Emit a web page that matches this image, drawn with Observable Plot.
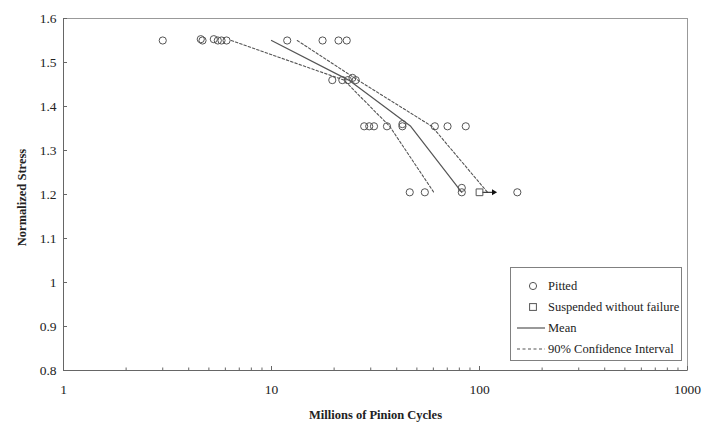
<!DOCTYPE html>
<html>
<head>
<meta charset="utf-8">
<script src="https://cdn.jsdelivr.net/npm/d3@7"></script>
<script src="https://cdn.jsdelivr.net/npm/@observablehq/plot@0.6"></script>
<style>
  html, body { margin: 0; padding: 0; background: #fff; }
  #wrap { position: relative; width: 714px; height: 423px; font-family: "Liberation Serif", "Times New Roman", serif; }
  #legend { position: absolute; left: 510px; top: 267px; width: 172px; height: 94px; border: 1px solid #808080; background: #fff; box-sizing: border-box; font-size: 12.5px; color: #222; }
  #legend .row { position: absolute; left: 0; height: 20px; width: 100%; }
  #legend .row svg { position: absolute; left: 0; top: 0; }
  #legend .row span { position: absolute; left: 37px; top: 2px; white-space: nowrap; line-height: 16px; }
</style>
</head>
<body>
<div id="wrap"></div>
<script>
// ---- data ----
const pittedCycles = [3.0, 4.57, 4.66, 5.28, 5.52, 5.75, 6.08, 11.9, 17.6, 21.0, 23.0,
                      19.6, 21.9, 23.3, 24.5, 25.4,
                      27.9, 29.5, 31.1, 35.9, 42.6, 42.6, 61.0, 70.2, 85.9,
                      46.2, 54.6, 82.2, 82.2, 152];
const pittedStress = [1.55, 1.553, 1.55, 1.553, 1.55, 1.55, 1.55, 1.55, 1.55, 1.55, 1.55,
                      1.46, 1.46, 1.46, 1.465, 1.46,
                      1.355, 1.355, 1.355, 1.355, 1.36, 1.355, 1.355, 1.355, 1.355,
                      1.205, 1.205, 1.215, 1.205, 1.205];
const suspendedCycles = [100];
const suspendedStress = [1.205];
const suspendedArrowTo = [117];
const levelStress = [1.55, 1.46, 1.355, 1.205];
const meanCycles = [10, 23.5, 46.7, 82.2];
const ciLowerCycles = [6.4, 22.3, 37.0, 60.3];
const ciUpperCycles = [13.3, 26.0, 59.0, 109.3];
const xTickValues = [1, 10, 100, 1000];
const yTickValues = [0.8, 0.9, 1, 1.1, 1.2, 1.3, 1.4, 1.5, 1.6];
const legendLabels = ["Pitted", "Suspended without failure", "Mean", "90% Confidence Interval"];

// ---- tables ----
const pitted = pittedCycles.map((c, i) => ({cycles: c, stress: pittedStress[i]}));
const suspended = suspendedCycles.map((c, i) => ({cycles: c, stress: suspendedStress[i], arrowTo: suspendedArrowTo[i]}));
const mean = levelStress.map((s, i) => ({cycles: meanCycles[i], stress: s}));
const ciLow = levelStress.map((s, i) => ({cycles: ciLowerCycles[i], stress: s}));
const ciHigh = levelStress.map((s, i) => ({cycles: ciUpperCycles[i], stress: s}));
const xMinor = [];
for (const dec of xTickValues.slice(0, -1)) for (let k = 2; k <= 9; k++) xMinor.push(dec * k);

const W = 714, H = 423, mL = 63, mR = 27, mT = 18, mB = 53;
const plotW = W - mL - mR, plotH = H - mT - mB;
const gray = "#555";

const chart = Plot.plot({
  width: W, height: H,
  marginLeft: mL, marginRight: mR, marginTop: mT, marginBottom: mB,
  style: {fontFamily: '"Liberation Serif", "Times New Roman", serif', background: "#fff", color: "#222"},
  x: {type: "log", domain: [1, 1000]},
  y: {domain: [0.8, 1.6]},
  marks: [
    Plot.frame({stroke: "#999"}),
    Plot.ruleX([xTickValues[0]], {stroke: "#666"}),
    Plot.ruleY([yTickValues[0]], {stroke: "#666"}),
    Plot.tickX(xTickValues, {x: d => d, stroke: "#666", insetTop: plotH - 4}),
    Plot.tickX(xMinor, {x: d => d, stroke: "#666", insetTop: plotH - 2.5}),
    Plot.tickY(yTickValues, {y: d => d, stroke: "#666", insetRight: plotW - 4}),
    Plot.axisX(xTickValues, {tickSize: 0, tickPadding: 14, fontSize: 13.5, label: null, tickFormat: d => String(d)}),
    Plot.axisY(yTickValues, {tickSize: 0, tickPadding: 7, fontSize: 13.5, label: null, tickFormat: d => String(d)}),
    Plot.text(["Millions of Pinion Cycles"], {frameAnchor: "bottom", dy: 48, fontWeight: "bold", fontSize: 12.5, fill: "#222"}),
    Plot.text(["Normalized Stress"], {frameAnchor: "left", textAnchor: "middle", dx: -42, dy: 3, rotate: -90, fontWeight: "bold", fontSize: 12.5, fill: "#222"}),
    Plot.line(ciLow, {x: "cycles", y: "stress", stroke: gray, strokeWidth: 1.1, strokeDasharray: "2.5,2"}),
    Plot.line(ciHigh, {x: "cycles", y: "stress", stroke: gray, strokeWidth: 1.1, strokeDasharray: "2.5,2"}),
    Plot.line(mean, {x: "cycles", y: "stress", stroke: gray, strokeWidth: 1.2}),
    Plot.dot(pitted, {x: "cycles", y: "stress", r: 3.6, stroke: gray, fill: "none", strokeWidth: 1}),
    Plot.ruleY(suspended, {y: "stress", x1: "cycles", x2: "arrowTo", insetLeft: 3.5, stroke: "#111"}),
    Plot.dot(suspended, {x: "arrowTo", y: "stress", symbol: "triangle", rotate: 90, r: 2.2, fill: "#111", stroke: "none"}),
    Plot.dot(suspended, {x: "cycles", y: "stress", symbol: "square", r: 3.8, stroke: gray, fill: "none", strokeWidth: 1})
  ]
});

const wrap = document.getElementById("wrap");
wrap.appendChild(chart);

// legend overlay
const legend = document.createElement("div");
legend.id = "legend";
const symbols = [
  '<circle cx="22" cy="10" r="3.6" fill="none" stroke="#555"/>',
  '<rect x="18.6" y="6.6" width="6.8" height="6.8" fill="none" stroke="#555"/>',
  '<line x1="6" y1="10" x2="34" y2="10" stroke="#555" stroke-width="1.2"/>',
  '<line x1="6" y1="10" x2="34" y2="10" stroke="#555" stroke-width="1.1" stroke-dasharray="3,2.5"/>'
];
legendLabels.forEach((lab, i) => {
  const row = document.createElement("div");
  row.className = "row";
  row.style.top = (8 + i * 21) + "px";
  row.innerHTML = `<svg width="36" height="20">${symbols[i]}</svg><span>${lab}</span>`;
  legend.appendChild(row);
});
wrap.appendChild(legend);
</script>
</body>
</html>
